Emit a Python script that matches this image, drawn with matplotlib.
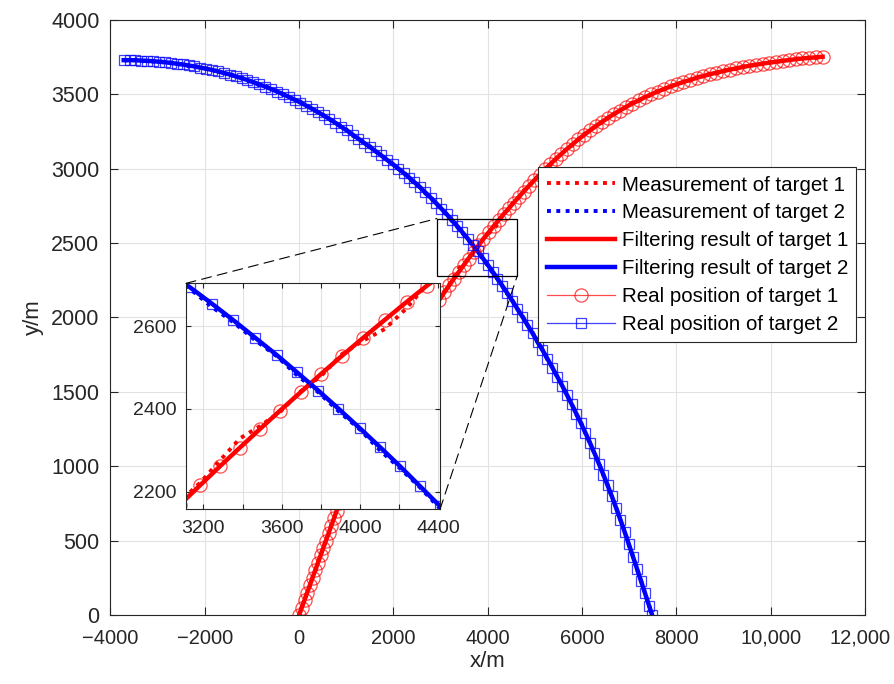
import matplotlib.pyplot as plt
import matplotlib.transforms as mtrans
from matplotlib.patches import Rectangle, ConnectionPatch
from matplotlib.ticker import FuncFormatter

plt.rcParams['font.family'] = ['Liberation Sans', 'DejaVu Sans']

# real position of target 1 (m)
x1 = [0, 57, 114, 170, 227, 284, 341, 398, 455, 511,
      568, 625, 682, 739, 795, 845, 897, 1007, 1186, 1384,
      1599, 1833, 2084, 2354, 2641, 2843, 2975, 3080, 3183, 3285,
      3387, 3490, 3592, 3701, 3803, 3908, 4018, 4128, 4239, 4342,
      4445, 4550, 4655, 4760, 4870, 4985, 5100, 5215, 5330, 5445,
      5560, 5680, 5800, 5920, 6045, 6170, 6295, 6420, 6545, 6670,
      6800, 6930, 7065, 7200, 7335, 7470, 7605, 7740, 7875, 8010,
      8150, 8290, 8430, 8570, 8710, 8850, 8990, 9130, 9270, 9410,
      9550, 9690, 9830, 9970, 10110, 10250, 10390, 10530, 10670, 10810,
      10950, 11100]
y1 = [0, 50, 100, 150, 200, 250, 300, 350, 400, 450,
      500, 550, 600, 650, 700, 750, 800, 900, 1050, 1200,
      1350, 1500, 1650, 1800, 1950, 2050, 2120, 2169, 2216, 2262,
      2307, 2352, 2396, 2442, 2485, 2528, 2572, 2615, 2658, 2697,
      2733, 2772, 2809, 2846, 2884, 2922, 2960, 2996, 3032, 3066,
      3099, 3133, 3165, 3197, 3228, 3258, 3287, 3315, 3341, 3367,
      3391, 3415, 3438, 3460, 3481, 3500, 3519, 3536, 3553, 3568,
      3583, 3597, 3611, 3623, 3635, 3646, 3656, 3666, 3675, 3684,
      3692, 3699, 3707, 3713, 3719, 3725, 3731, 3736, 3741, 3745,
      3749, 3753]

# real position of target 2 (m)
x2 = [-3720, -3595, -3470, -3345, -3220, -3095, -2970, -2845, -2720, -2595,
      -2470, -2345, -2220, -2095, -1970, -1845, -1720, -1595, -1470, -1345,
      -1220, -1095, -970, -845, -720, -595, -470, -345, -220, -95,
      28, 151, 274, 397, 520, 643, 766, 889, 1011, 1133,
      1255, 1377, 1499, 1621, 1743, 1865, 1987, 2102, 2216, 2331,
      2445, 2560, 2674, 2789, 2903, 3018, 3132, 3243, 3353, 3464,
      3575, 3677, 3788, 3890, 4001, 4103, 4205, 4307, 4409, 4517,
      4625, 4733, 4841, 4949, 5055, 5160, 5265, 5370, 5475, 5577,
      5677, 5777, 5877, 5977, 6072, 6167, 6262, 6357, 6452, 6542,
      6632, 6722, 6812, 6902, 6992, 7078, 7164, 7250, 7336, 7422,
      7485]
y2 = [3730, 3730, 3729, 3727, 3725, 3723, 3719, 3716, 3711, 3706,
      3701, 3694, 3688, 3680, 3672, 3664, 3654, 3644, 3633, 3621,
      3609, 3596, 3582, 3567, 3552, 3536, 3519, 3502, 3483, 3464,
      3445, 3424, 3403, 3381, 3358, 3334, 3309, 3283, 3257, 3230,
      3202, 3174, 3146, 3118, 3089, 3059, 3030, 3001, 2972, 2941,
      2909, 2876, 2841, 2806, 2769, 2731, 2693, 2654, 2614, 2572,
      2530, 2489, 2444, 2401, 2353, 2308, 2262, 2214, 2166, 2114,
      2060, 2006, 1951, 1894, 1838, 1781, 1723, 1663, 1602, 1542,
      1481, 1418, 1354, 1288, 1224, 1157, 1088, 1017, 943, 871,
      797, 720, 641, 559, 475, 393, 311, 228, 145, 61,
      0]

# measurement error in y (m)
dy1 = [0, 6, -4, 9, -7, 3, -10, 5, 8, -3,
       4, -8, 6, -2, 7, -5, 9, -6, 4, -9,
       7, -4, 10, -6, 3, -8, 5, 8, 6, 14,
       22, 7, -3, 2, -5, 4, -7, -22, -15, 3,
       -6, 8, -4, 6, -9, 5, -3, 9, -7, 4,
       -5, 7, -8, 3, 6, -4, 9, -6, 2, -7,
       5, -3, 8, -5, 4, -8, 6, -2, 7, -6,
       3, -5, 8, -4, 6, -7, 2, 5, -6, 4,
       -3, 7, -5, 3, -6, 5, -2, 6, -4, 3,
       -5, 0]
dy2 = [0, -5, 4, -7, 6, -3, 8, -6, 3, -8,
       5, -4, 7, -5, 2, -7, 6, -3, 8, -4,
       5, -6, 3, -8, 7, -2, 5, -6, 4, -7,
       6, -3, 8, -5, 2, -6, 7, -4, 5, -8,
       3, -5, 6, -2, 7, -6, 4, -3, 8, -5,
       -6, 3, -7, 4, -5, 2, -4, -8, -5, -6,
       -3, -7, -4, -6, -3, -8, -5, -3, -6, 5,
       -4, 7, -3, 6, -5, 3, -7, 4, -2, 6,
       -5, 3, -6, 7, -4, 2, -5, 6, -3, 5,
       -6, 4, -2, 6, -5, 3, -4, 5, -3, 2,
       0]

ym1 = [a + b for a, b in zip(y1, dy1)]
ym2 = [a + b for a, b in zip(y2, dy2)]

# zoom window
rect_x = (2920, 4625)
rect_y = (2280, 2665)
ins_xlim = (3111, 4410)
ins_ylim = (2158, 2703)

labels = ['Measurement of target 1', 'Measurement of target 2',
          'Filtering result of target 1', 'Filtering result of target 2',
          'Real position of target 1', 'Real position of target 2']

dots = (0, (1, 1.4))
txt = '#262626'


def draw(a):
    a.plot(x1, ym1, color='r', lw=2.8, ls=dots)
    a.plot(x2, ym2, color='b', lw=2.8, ls=dots)
    a.plot(x1, y1, color='r', lw=3.2)
    a.plot(x2, y2, color='b', lw=3.2)
    a.plot(x1, y1, color='r', lw=0.9, marker='o', ms=9.5, mfc='none',
           mew=0.9, alpha=0.7)
    a.plot(x2, y2, color='b', lw=0.9, marker='s', ms=7.5, mfc='none',
           mew=0.9, alpha=0.75)


def style(a, size, ln):
    a.grid(True, color='#e2e2e2', lw=0.8)
    a.set_axisbelow(True)
    a.tick_params(direction='in', top=True, right=True, length=ln,
                  width=0.8, labelsize=size, colors=txt)
    for s in a.spines.values():
        s.set_color(txt)
        s.set_linewidth(0.8)


fig = plt.figure(figsize=(8.94, 6.84), dpi=100)
ax = fig.add_axes([0.1236, 0.1009, 0.844, 0.8699])
draw(ax)
ax.set_xlim(-4000, 12000)
ax.set_ylim(0, 4000)
ax.set_xticks(range(-4000, 12001, 2000))
ax.set_yticks(range(0, 4001, 500))


def fmt(v, pos):
    s = f'{abs(int(v)):,}' if abs(v) >= 10000 else f'{abs(int(v))}'
    return ('\u2212' + s) if v < 0 else s


ax.xaxis.set_major_formatter(FuncFormatter(fmt))
style(ax, 15, 6)
ax.tick_params(axis='x', pad=10, labelsize=14.5)
ax.tick_params(axis='y', pad=8, labelsize=15.5)
ax.set_xlabel('x/m', fontsize=16, color=txt, labelpad=2)
ax.set_ylabel('y/m', fontsize=16, color=txt, labelpad=5)

# keep the last x tick label inside the figure
last = ax.xaxis.get_major_ticks()[-1].label1
last.set_transform(last.get_transform() +
                   mtrans.ScaledTranslation(-5 / 100, 0, fig.dpi_scale_trans))

ax.add_patch(Rectangle((rect_x[0], rect_y[0]), rect_x[1] - rect_x[0],
                       rect_y[1] - rect_y[0], fill=False, ec='k', lw=0.9,
                       zorder=5))

leg = ax.legend(labels, loc='upper left', bbox_to_anchor=(0.567, 0.7524),
                borderaxespad=0, fontsize=14.8, fancybox=False,
                framealpha=1, edgecolor=txt, handlelength=3.33,
                handletextpad=0.33, labelspacing=0.43, numpoints=1,
                borderpad=0.4)
leg.get_frame().set_linewidth(0.8)
leg.set_zorder(10)

axins = fig.add_axes([0.2081, 0.2554, 0.2841, 0.3304])
draw(axins)
axins.set_xlim(*ins_xlim)
axins.set_ylim(*ins_ylim)
axins.set_xticks(range(3200, 4401, 200))
axins.set_xticklabels(['3200', '', '3600', '', '4000', '', '4400'])
axins.set_yticks([2200, 2400, 2600])
style(axins, 14, 3.5)
axins.tick_params(axis='x', pad=8)
axins.tick_params(axis='y', pad=7)

for pa, pb in [((0, 1), (rect_x[0], rect_y[1])), ((1, 0), (rect_x[1], rect_y[0]))]:
    con = ConnectionPatch(xyA=pa, coordsA=axins.transAxes, xyB=pb,
                          coordsB=ax.transData, color='k', lw=0.8,
                          ls=(0, (9, 5.5)))
    fig.add_artist(con)

fig.savefig('out.png', dpi=100)
